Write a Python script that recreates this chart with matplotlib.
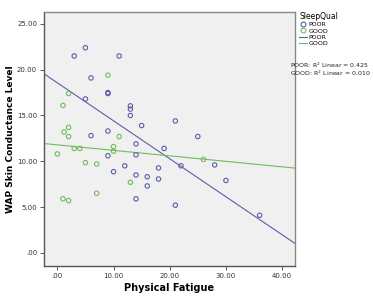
import numpy as np
import matplotlib
matplotlib.use('Agg')
import matplotlib.pyplot as plt
from matplotlib.lines import Line2D

# SleepQual = POOR
poor_x = [3, 5, 11, 6, 9, 9, 5, 13, 13, 13, 15, 21, 6, 9, 14, 19, 9, 14, 10, 12,
          14, 16, 16, 18, 18, 14, 21, 22, 28, 30, 36, 25]
poor_y = [21.5, 22.4, 21.5, 19.1, 17.5, 17.4, 16.8, 16.05, 15.7, 15.0, 13.9, 14.4, 12.8, 13.3, 11.9, 11.4,
          10.6, 10.7, 8.86, 9.5, 8.5, 8.3, 7.3, 9.27, 8.06, 5.9, 5.2, 9.5, 9.6, 7.9, 4.1, 12.7]

# SleepQual = GOOD
good_x = [9, 2, 1, 2, 1.2, 2, 11, 10, 3, 4, 0, 10, 5, 7, 13, 7, 1, 2, 26]
good_y = [19.4, 17.4, 16.1, 13.7, 13.2, 12.7, 12.7, 11.6, 11.4, 11.4, 10.8, 11.1, 9.85, 9.7, 7.7,
          6.5, 5.9, 5.7, 10.2]

# fit lines (intercept, slope)
poor_fit = (18.57, -0.415)
good_fit = (11.79, -0.06)
r2 = {'POOR': 0.425, 'GOOD': 0.010}

blue = '#5B5EA8'
green = '#6DBE5C'

fig = plt.figure(figsize=(3.73, 3.01), dpi=100)
ax = fig.add_axes([0.118, 0.117, 0.673, 0.843])
ax.set_facecolor('#F0F0F0')

ax.scatter(poor_x, poor_y, s=10, facecolors='none', edgecolors=blue, linewidths=0.8, zorder=3)
ax.scatter(good_x, good_y, s=10, facecolors='none', edgecolors=green, linewidths=0.8, zorder=3)

xs = np.array([-2.4, 42.4])
ax.plot(xs, poor_fit[0] + poor_fit[1] * xs, color=blue, lw=0.8, zorder=2)
ax.plot(xs, good_fit[0] + good_fit[1] * xs, color=green, lw=0.8, zorder=2)

ax.set_xlim(-2.37, 42.3)
ax.set_ylim(-1.42, 26.3)
ax.set_xticks([0, 10, 20, 30, 40])
ax.set_yticks([0, 5, 10, 15, 20, 25])
fmt = lambda v: ('%.2f' % v).lstrip('0') if v < 1 else '%.2f' % v
ax.set_xticklabels([fmt(v) for v in [0, 10, 20, 30, 40]])
ax.set_yticklabels([fmt(v) for v in [0, 5, 10, 15, 20, 25]])
ax.tick_params(labelsize=5, length=3, width=0.7, colors='#555555', pad=2)
ax.tick_params(labelcolor='#333333')
for side in ['top', 'right']:
    ax.spines[side].set_color('#888888')
for side in ['left', 'bottom']:
    ax.spines[side].set_color('#555555')
for s in ax.spines.values():
    s.set_linewidth(1.0)

ax.set_xlabel('Physical Fatigue', fontsize=7, fontweight='bold', labelpad=3)
ax.set_ylabel('WAP Skin Conductance Level', fontsize=6.5, fontweight='bold', labelpad=1.5)

handles = [
    Line2D([], [], marker='o', ls='none', mfc='none', mec=blue, ms=3.5, mew=0.8, label='POOR'),
    Line2D([], [], marker='o', ls='none', mfc='none', mec=green, ms=3.5, mew=0.8, label='GOOD'),
    Line2D([], [], color=blue, lw=0.8, label='POOR'),
    Line2D([], [], color=green, lw=0.8, label='GOOD'),
]
leg = fig.legend(handles=handles, title='SleepQual', loc='upper left',
                 bbox_to_anchor=(0.79, 0.975), frameon=False, fontsize=4.5,
                 title_fontsize=5.5, handlelength=1.2, handletextpad=0.3,
                 labelspacing=0.15, borderpad=0.2)
leg._legend_box.align = 'left'

fig.text(0.778, 0.775, 'POOR: R$^2$ Linear = %.3f' % r2['POOR'], fontsize=4.5, color='#222222')
fig.text(0.778, 0.748, 'GOOD: R$^2$ Linear = %.3f' % r2['GOOD'], fontsize=4.5, color='#222222')

fig.savefig('out.png', dpi=100)
